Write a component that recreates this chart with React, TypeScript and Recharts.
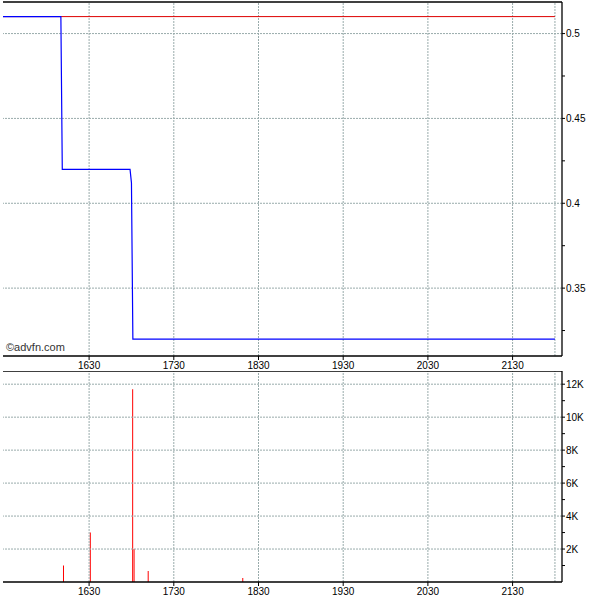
import {
  Bar,
  ComposedChart,
  Line,
  ReferenceLine,
  XAxis,
  YAxis,
} from 'recharts';

// times are minutes after midnight (16:30 -> 990)
const priceTimes = [929, 970, 971, 1019, 1020, 1021, 1320];
const priceValues = [0.51, 0.51, 0.42, 0.42, 0.412, 0.32, 0.32];
const prevClose = 0.51;

const volumeTimes = [972, 991, 1021, 1022, 1032, 1099];
const volumeValues = [1000, 3000, 11700, 2000, 670, 250];

const timeTicks = [990, 1050, 1110, 1170, 1230, 1290];
const gridTimes = [990, 1050, 1110, 1170, 1230, 1290, 1320];
const priceTicks = [0.325, 0.35, 0.375, 0.4, 0.425, 0.45, 0.475, 0.5];
const priceLabels = [0.35, 0.4, 0.45, 0.5];
const volumeTicks = [1000, 2000, 3000, 4000, 5000, 6000, 7000, 8000, 9000, 10000, 11000, 12000];
const volumeLabels = [2000, 4000, 6000, 8000, 10000, 12000];

const priceData = priceTimes.map((t, i) => ({ t, price: priceValues[i] }));
const volumeData = volumeTimes.map((t, i) => ({ t, vol: volumeValues[i] }));

const X_DOMAIN: [number, number] = [929, 1325];
const P_DOMAIN: [number, number] = [0.31, 0.5186];
const V_DOMAIN: [number, number] = [0, 12800];

const FONT = "'Liberation Sans Narrow', 'Liberation Sans', Arial, sans-serif";
const tickStyle = { fontSize: 10, fill: '#000', fontFamily: FONT };
const GRID = '#99abab';
const AXIS = { stroke: '#000', strokeWidth: 1.3 };

const fmtTime = (v: number) => `${Math.floor(v / 60)}${String(v % 60).padStart(2, '0')}`;
const fmtPrice = (v: number) => (priceLabels.includes(v) ? String(v) : '');
const fmtVol = (v: number) => (volumeLabels.includes(v) ? `${v / 1000}K` : '');

function LeftAxis({ domain, ticks }: { domain: [number, number]; ticks: number[] }) {
  return (
    <YAxis
      yAxisId="l"
      orientation="left"
      type="number"
      domain={domain}
      ticks={ticks}
      width={0}
      mirror
      tickSize={3}
      tick={() => null}
      tickLine={{ stroke: '#000' }}
      axisLine={AXIS}
    />
  );
}

export default function App() {
  return (
    <div style={{ position: 'absolute', left: 0, top: 0, width: 600, height: 600, background: '#fff' }}>
      <div style={{ position: 'absolute', left: 0, top: 0 }}>
        <ComposedChart width={600} height={372} data={priceData} margin={{ top: 2, right: 0, left: 3, bottom: 0 }}>
          {LeftAxis({ domain: P_DOMAIN, ticks: priceTicks })}
          <XAxis
            type="number"
            dataKey="t"
            domain={X_DOMAIN}
            ticks={timeTicks}
            tickFormatter={fmtTime}
            height={16}
            tickSize={4}
            tickMargin={2}
            tick={tickStyle}
            tickLine={{ stroke: '#000' }}
            axisLine={AXIS}
          />
          <YAxis
            orientation="right"
            type="number"
            domain={P_DOMAIN}
            ticks={priceTicks}
            tickFormatter={fmtPrice}
            width={38}
            tickSize={3}
            tickMargin={1}
            tick={{ ...tickStyle, textAnchor: 'start' }}
            tickLine={{ stroke: '#000' }}
            axisLine={AXIS}
          />
          {priceLabels.map((v) => (
            <ReferenceLine key={`h${v}`} y={v} stroke={GRID} strokeDasharray="2 1" />
          ))}
          {gridTimes.map((v) => (
            <ReferenceLine key={`v${v}`} x={v} stroke={GRID} strokeDasharray="2 1" />
          ))}
          <ReferenceLine y={P_DOMAIN[1]} stroke="#000" strokeWidth={1.3} />
          <ReferenceLine
            segment={[
              { x: priceTimes[0], y: prevClose },
              { x: priceTimes[priceTimes.length - 1], y: prevClose },
            ]}
            stroke="#dd0000"
          />
          <Line
            type="linear"
            dataKey="price"
            stroke="#0000ff"
            strokeWidth={1.2}
            dot={false}
            activeDot={false}
            isAnimationActive={false}
          />
        </ComposedChart>
      </div>
      <div
        style={{
          position: 'absolute',
          left: 6,
          top: 341,
          fontFamily: "'Liberation Sans', Arial, sans-serif",
          fontSize: 11,
          color: '#333',
          lineHeight: '12px',
        }}
      >
        ©advfn.com
      </div>
      <div style={{ position: 'absolute', left: 0, top: 371 }}>
        <ComposedChart width={600} height={229} data={volumeData} margin={{ top: 0, right: 0, left: 3, bottom: 0 }}>
          {LeftAxis({ domain: V_DOMAIN, ticks: volumeTicks })}
          <XAxis
            type="number"
            dataKey="t"
            domain={X_DOMAIN}
            ticks={timeTicks}
            tickFormatter={fmtTime}
            height={18}
            tickSize={4}
            tickMargin={2}
            tick={tickStyle}
            tickLine={{ stroke: '#000' }}
            axisLine={AXIS}
          />
          <YAxis
            orientation="right"
            type="number"
            domain={V_DOMAIN}
            ticks={volumeTicks}
            tickFormatter={fmtVol}
            width={38}
            tickSize={3}
            tickMargin={1}
            tick={{ ...tickStyle, textAnchor: 'start' }}
            tickLine={{ stroke: '#000' }}
            axisLine={AXIS}
          />
          {volumeLabels.map((v) => (
            <ReferenceLine key={`h${v}`} y={v} stroke={GRID} strokeDasharray="2 1" />
          ))}
          {gridTimes.map((v) => (
            <ReferenceLine key={`v${v}`} x={v} stroke={GRID} strokeDasharray="2 1" />
          ))}
          <ReferenceLine y={V_DOMAIN[1]} stroke="#000" strokeWidth={1.3} />
          <Bar dataKey="vol" fill="#ff0000" barSize={1} isAnimationActive={false} />
        </ComposedChart>
      </div>
    </div>
  );
}
